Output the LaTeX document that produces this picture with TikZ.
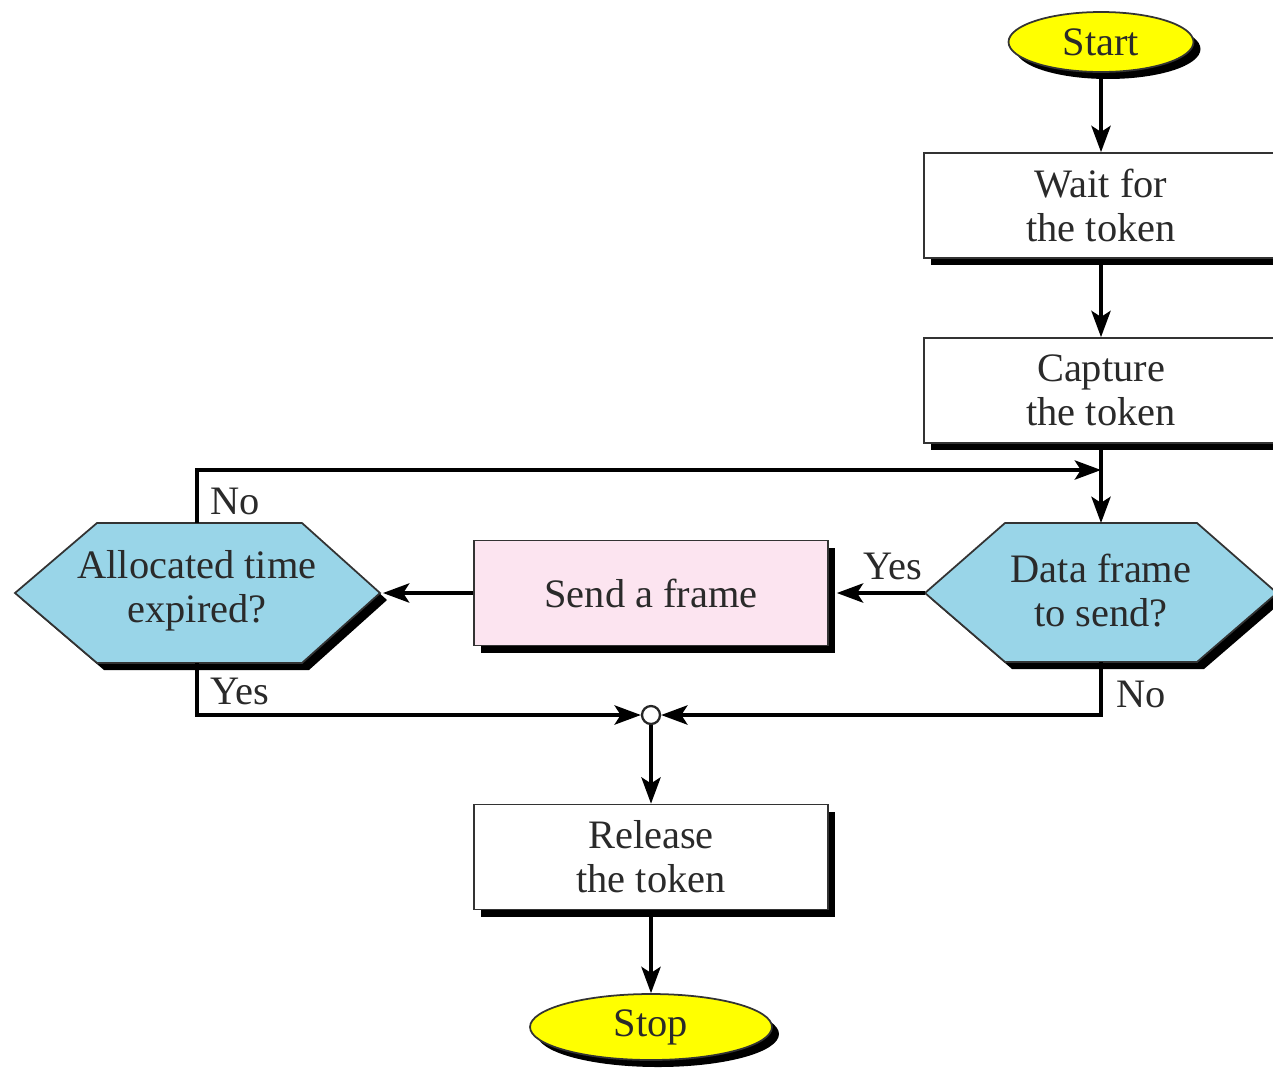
\documentclass[tikz,border=0pt]{standalone}
\usepackage{fontspec}
\setmainfont{Liberation Serif}
\usetikzlibrary{shadows,arrows.meta,shapes.geometric}
\definecolor{hexblue}{HTML}{99D5E8}
\definecolor{boxpink}{HTML}{FCE4F0}
\definecolor{termyellow}{HTML}{FFFF00}
\definecolor{txt}{HTML}{2A2A2A}
\begin{document}
\begin{tikzpicture}[x=0.02cm,y=-0.02cm,
  shad/.style={drop shadow={shadow xshift=0.14cm,shadow yshift=-0.14cm,fill=black,opacity=1}},
  lbl/.style={font=\fontsize{23}{25}\selectfont, text=txt},
  procbox/.style={rectangle, draw=black!80, line width=1pt, fill=white, minimum width=7.08cm, minimum height=2.1cm, align=center, lbl, shad},
  term/.style={ellipse, draw=black!80, line width=1pt, fill=termyellow, lbl, shad, inner sep=0pt},
  hexa/.style={draw=black!80, line width=1pt, fill=hexblue, shad},
  flow/.style={line width=1.8pt, -{Stealth[length=15pt,width=11pt,inset=3.5pt]}},
]
\useasboundingbox (0,0) rectangle (1273,1069);

% terminals
\node[term, minimum width=3.7cm, minimum height=1.2cm] (start) at (1101,42) {Start};
\node[term, minimum width=4.84cm, minimum height=1.32cm] (stop) at (651,1027) {Stop};

% process boxes
\node[procbox] (wait) at (1101,205.5) {Wait for\\the token};
\node[procbox] (capture) at (1101,390.5) {Capture\\the token};
\node[procbox, fill=boxpink] (send) at (651,593) {Send a frame};
\node[procbox] (release) at (651,857) {Release\\the token};

% decision hexagons
\filldraw[hexa] (15,593) -- (97,523) -- (302,523) -- (380,593) -- (302,663) -- (97,663) -- cycle;
\node[lbl, align=center] (alloc) at (197,591) {Allocated time\\expired?};
\coordinate (allocT) at (197,523);
\coordinate (allocB) at (197,663);
\coordinate (allocR) at (383,593);

\filldraw[hexa] (925,593) -- (1005,523) -- (1197,523) -- (1277,593) -- (1197,662) -- (1005,662) -- cycle;
\node[lbl, align=center] (data) at (1101,591) {Data frame\\to send?};
\coordinate (dataT) at (1101,523);
\coordinate (dataB) at (1101,662);
\coordinate (dataL) at (925,593);

% junctions
\coordinate (merge) at (1101,470);
\node[circle, draw=black!85, line width=1.3pt, fill=white, minimum size=0.36cm, inner sep=0pt] (joint) at (651,715) {};

% connectors
\draw[flow] (start.south) -- (wait.north);
\draw[flow] (wait.south) -- (capture.north);
\draw[flow] (capture.south) -- (dataT);
\draw[flow] (allocT) |- (merge);
\draw[flow] (dataL) -- ([xshift=0.16cm]send.east);
\draw[flow] (send.west) -- (allocR);
\draw[flow] (allocB) |- (joint.west);
\draw[flow] (dataB) |- (joint.east);
\draw[flow] (joint.south) -- (release.north);
\draw[flow] (release.south) -- (stop.north);

% labels
\node[lbl, anchor=west] (noA) at (204,501) {No};
\node[lbl, anchor=west] (yesA) at (204,691) {Yes};
\node[lbl, anchor=west] (yesD) at (857,566) {Yes};
\node[lbl, anchor=west] (noD) at (1110,694) {No};
\end{tikzpicture}
\end{document}
